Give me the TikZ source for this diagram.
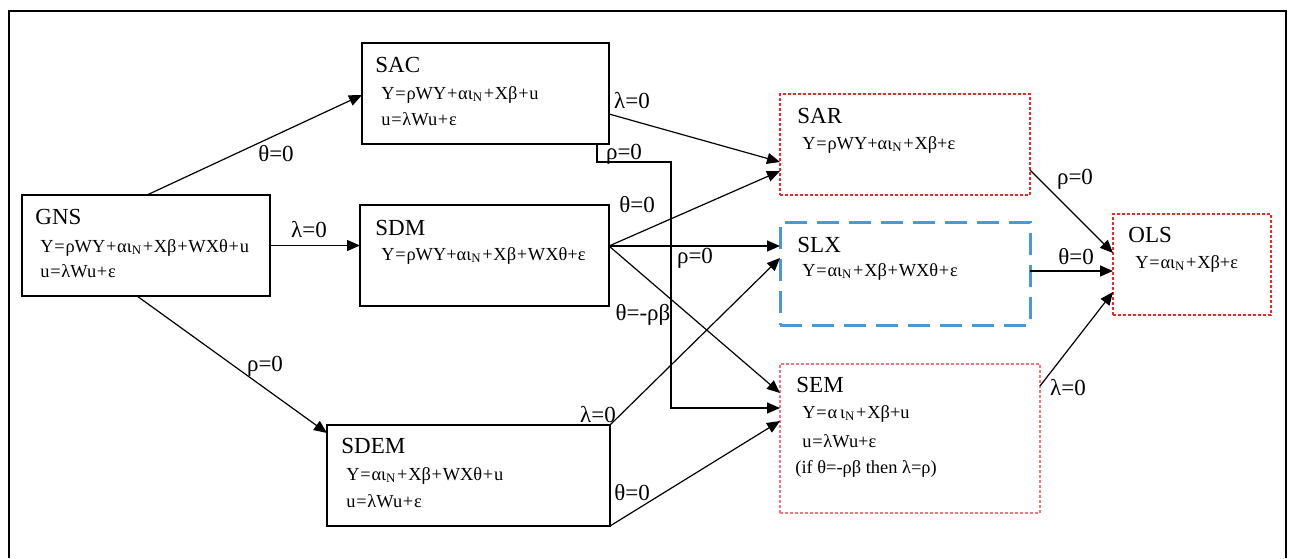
\documentclass[tikz,border=0pt]{standalone}
\usepackage{fontspec}
\setmainfont{Liberation Serif}
\usetikzlibrary{arrows.meta,calc}
\definecolor{dotred}{RGB}{238,40,40}
\definecolor{dotpink}{RGB}{250,115,125}
\definecolor{dashblue}{RGB}{72,152,218}
\newcommand\pls{\kern0.04em+\kern0.04em}
\newcommand\peq{\kern0.04em=\kern0.04em}
\newcommand\iN{ι\textsubscript{N}}
\begin{document}
\begin{tikzpicture}[x=0.5pt,y=-0.5pt,
  box/.style={draw, line width=0.75pt, rectangle, anchor=north west, inner sep=0pt, outer sep=0pt},
  redbox/.style={box, draw=dotred, line width=0.7pt, dash pattern=on 1.5pt off 1pt},
  pinkbox/.style={box, draw=dotpink, line width=0.7pt, dash pattern=on 1.5pt off 1pt},
  bluebox/.style={box, draw=dashblue, line width=1.5pt, dash pattern=on 11pt off 5pt},
  arr/.style={line width=0.6pt, -{Triangle[length=6.5pt,width=5.5pt]}},
  ttl/.style={anchor=base west, inner sep=0pt, font=\fontsize{11.5pt}{13pt}\selectfont},
  eqn/.style={anchor=base west, inner sep=0pt, font=\fontsize{9.2pt}{10pt}\selectfont},
  lbl/.style={anchor=base, inner sep=0pt, font=\fontsize{11.5pt}{13pt}\selectfont}]
\useasboundingbox (0,0) rectangle (1294,558);
\fill[white] (0,0) rectangle (1294,558);
% outer frame (open at the bottom)
\draw[line width=1pt] (9,558) -- (9,11) -- (1286,11) -- (1286,558);

% model boxes
\node[box, minimum width=123.5pt, minimum height=50.5pt] (sac) at (362,43) {};
\node[box, minimum width=124pt, minimum height=50.5pt] (gns) at (22,195) {};
\node[box, minimum width=124.5pt, minimum height=50.5pt] (sdm) at (360,205) {};
\node[box, minimum width=141.5pt, minimum height=50.5pt] (sdem) at (327,425) {};
\node[redbox, minimum width=125pt, minimum height=50.5pt] (sar) at (780,94) {};
\node[bluebox, minimum width=125pt, minimum height=51.5pt] (slx) at (780,222) {};
\node[pinkbox, minimum width=130pt, minimum height=74.5pt] (sem) at (780,364) {};
\node[redbox, minimum width=79pt, minimum height=50.5pt] (ols) at (1113,214) {};

% box contents
\node[ttl] (sacT) at ($(sac.north west)+(13,29)$) {SAC};
\node[eqn] (sacA) at ($(sac.north west)+(19,56)$) {Y\peq ρWY\pls α\iN\pls Xβ\pls u};
\node[eqn] (sacB) at ($(sac.north west)+(19,82)$) {u\peq λWu\pls ε};

\node[ttl] (gnsT) at ($(gns.north west)+(13,29)$) {GNS};
\node[eqn] (gnsA) at ($(gns.north west)+(18,57)$) {Y\peq ρWY\pls α\iN\pls Xβ\pls WXθ\pls u};
\node[eqn] (gnsB) at ($(gns.north west)+(18,82)$) {u\peq λWu\pls ε};

\node[ttl] (sdmT) at ($(sdm.north west)+(15,30)$) {SDM};
\node[eqn] (sdmA) at ($(sdm.north west)+(21,55)$) {Y\peq ρWY+α\iN\pls Xβ\pls WXθ+ε};

\node[ttl] (sdemT) at ($(sdem.north west)+(14,28)$) {SDEM};
\node[eqn] (sdemA) at ($(sdem.north west)+(19,55)$) {Y\peq α\iN\pls Xβ\pls WXθ\pls u};
\node[eqn] (sdemB) at ($(sdem.north west)+(19,82)$) {u\peq λWu\pls ε};

\node[ttl] (sarT) at ($(sar.north west)+(17,29)$) {SAR};
\node[eqn] (sarA) at ($(sar.north west)+(22,55)$) {Y\peq ρWY+α\iN\pls Xβ+ε};

\node[ttl] (slxT) at ($(slx.north west)+(17,30)$) {SLX};
\node[eqn] (slxA) at ($(slx.north west)+(22,54)$) {Y\peq α\iN\pls Xβ\pls WXθ\pls ε};

\node[ttl] (semT) at ($(sem.north west)+(16,28)$) {SEM};
\node[eqn] (semA) at ($(sem.north west)+(22,54)$) {Y\peq α\,\iN\pls Xβ+u};
\node[eqn] (semB) at ($(sem.north west)+(22,83)$) {u\peq λWu+ε};
\node[eqn] (semC) at ($(sem.north west)+(15,109)$) {(if θ=-ρβ then λ=ρ)};

\node[ttl] (olsT) at ($(ols.north west)+(15,28)$) {OLS};
\node[eqn] (olsA) at ($(ols.north west)+(22,54)$) {Y\peq α\iN\pls Xβ+ε};

% restrictions
\draw[arr] ($(gns.north west)+(125,0)$) -- ($(sac.north west)+(0,52)$);
\draw[arr] (gns.east) -- (gns.east -| sdm.west);
\draw[arr] ($(gns.south west)+(115,0)$) -- ($(sdem.north west)+(0,8)$);

\draw[arr] ($(sac.north east)+(0,71)$) -- ($(sar.north west)+(0,68)$);
\coordinate (bend) at (671,162);
\draw[arr] ($(sac.south east)+(-12,0)$) |- (bend) |- ($(sem.north west)+(0,44)$);

\draw[arr] ($(sdm.north east)+(0,41)$) -- ($(sar.north west)+(0,77)$);
\draw[arr] ($(sdm.north east)+(0,41)$) -- ($(slx.north west)+(0,24)$);
\draw[arr] ($(sdm.north east)+(0,41)$) -- ($(sem.north west)+(0,29)$);

\draw[arr] (sdem.north east) -- ($(slx.north west)+(0,36)$);
\draw[arr] (sdem.south east) -- ($(sem.north west)+(0,57)$);

\draw[arr] ($(sar.north east)+(0,76)$) -- ($(ols.north west)+(0,39)$);
\draw[arr] ($(slx.north east)+(0,49)$) -- ($(ols.north west)+(0,57)$);
\draw[arr] ($(sem.north east)+(0,22)$) -- ($(ols.north west)+(0,78)$);

% restriction labels
\node[lbl] (l1) at (276,161) {θ=0};
\node[lbl] (l2) at (309,237) {λ=0};
\node[lbl] (l3) at (265,371) {ρ=0};
\node[lbl] (l4) at (632,108) {λ=0};
\node[lbl] (l5) at (624,159) {ρ=0};
\node[lbl] (l6) at (637,212) {θ=0};
\node[lbl] (l7) at (695,263) {ρ=0};
\node[lbl] (l8) at (643,320) {θ=-ρβ};
\node[lbl] (l9) at (598,422) {λ=0};
\node[lbl] (l10) at (632,500) {θ=0};
\node[lbl] (l11) at (1075,184) {ρ=0};
\node[lbl] (l12) at (1076,264) {θ=0};
\node[lbl] (l13) at (1068,395) {λ=0};
\end{tikzpicture}
\end{document}
